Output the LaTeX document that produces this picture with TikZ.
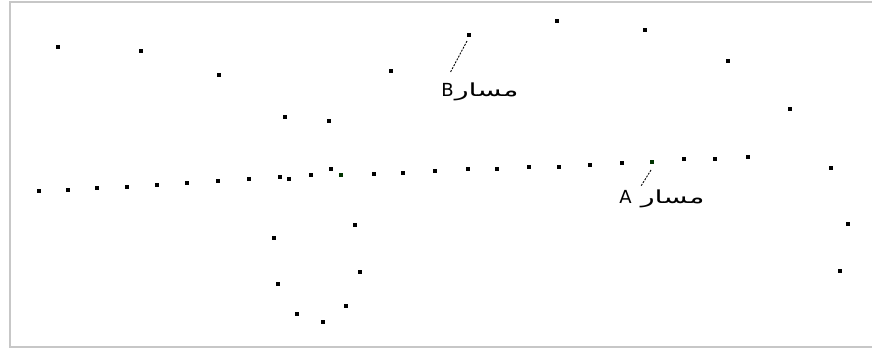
\documentclass[tikz,border=0pt]{standalone}
\usepackage{fontspec}
\usepackage{graphicx}
\TeXXeTstate=1
\newfontfamily\arabicfont[Script=Arabic]{DejaVu Sans}
\newcommand{\arw}[1]{\scalebox{1.6}[1]{\beginR #1\endR}}
\begin{document}
\begin{tikzpicture}[x=1pt,y=-1pt,
  pt/.style={fill=black,draw=none,minimum size=3.4pt,inner sep=0pt,outer sep=0pt,rectangle},
  ptg/.style={pt,fill=black!80!green},
  frameline/.style={draw=black!22,line width=2pt},
  leader/.style={draw=black,line width=0.9pt,dash pattern=on 2pt off 1.3pt},
  lbl/.style={inner sep=0pt,font=\arabicfont\fontsize{18}{18}\selectfont}]
\useasboundingbox (0,0) rectangle (872,349);
\draw[frameline] (872,2) -- (10,2) -- (10,347) -- (872,347);
% upper scattered points (path B)
\foreach \n/\x/\y in {b1/58/47,b2/141/51,b3/219/75,b4/285/117,b5/329/121,b6/391/71,b7/469/35,b8/557/21,b9/645/30,b10/728/61,b11/790/109}
  \node[pt] (\n) at (\x,\y) {};
% main line of points (path A)
\foreach \n/\x/\y in {a1/39/191,a2/68/190,a3/97/188,a4/127/187,a5/157/185,a6/187/183,a7/218/181,a8/249/179,a9/280/177,a10/289/179,a11/311/175,a12/331/169,a14/374/174,a15/403/173,a16/435/171,a17/468/169,a18/497/169,a19/529/167,a20/559/167,a21/590/165,a22/622/163,a24/684/159,a25/715/159,a26/748/157,a27/831/168,a28/848/224,a29/840/271}
  \node[pt] (\n) at (\x,\y) {};
\node[ptg] (a13) at (341,175) {};
\node[ptg] (a23) at (652,162) {};
% loop below
\foreach \n/\x/\y in {c1/355/225,c2/274/238,c3/360/272,c4/278/284,c5/346/306,c6/297/314,c7/323/322}
  \node[pt] (\n) at (\x,\y) {};
% labels
\node[lbl] (lB) at (480,92) {B\hspace{1pt}\arw{مسار}};
\node[lbl] (lA) at (662,199) {A\hspace{9pt}\arw{مسار}};
\coordinate (lBe) at (450,73);
\coordinate (lAe) at (641,186);
\draw[leader] (b7) ++(-2,6) -- (lBe);
\draw[leader] (a23) ++(-1,8) -- (lAe);
\end{tikzpicture}
\end{document}
